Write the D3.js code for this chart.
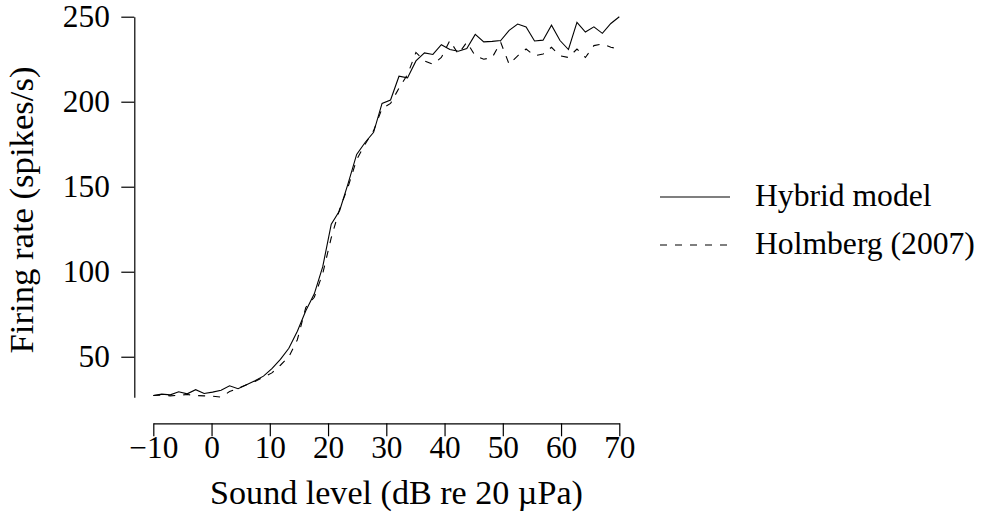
<!DOCTYPE html>
<html>
<head>
<meta charset="utf-8">
<script src="https://cdn.jsdelivr.net/npm/d3@7"></script>
<style>
    body { margin: 0; background: #fff; }
    text { font-family: "Liberation Serif", "DejaVu Serif", serif; fill: #000; }
</style>
</head>
<body>
<div id="chart"></div>
<script>
// sound levels (dB re 20 µPa) of the rate-level function
const soundLevels = [
    -10.00, -8.55, -7.09, -5.64, -4.18, -2.73, -1.27, 0.18, 1.64, 3.09,
    4.55, 6.00, 7.45, 8.91, 10.36, 11.82, 13.27, 14.73, 16.18, 17.64,
    19.09, 20.55, 22.00, 23.45, 24.91, 26.36, 27.82, 29.27, 30.73, 32.18,
    33.64, 35.09, 36.55, 38.00, 39.45, 40.91, 42.36, 43.82, 45.27, 46.73,
    48.18, 49.64, 51.09, 52.55, 54.00, 55.45, 56.91, 58.36, 59.82, 61.27,
    62.73, 64.18, 65.64, 67.09, 68.55, 70.00
];

// firing rate (spikes/s), hybrid model
const hybridRates = [
    27.2, 28.0, 27.6, 29.4, 28.2, 30.6, 28.4, 29.2, 30.3, 32.9,
    31.2, 33.5, 35.9, 38.6, 43.0, 48.5, 55.0, 65.0, 77.0, 87.0,
    103.0, 128.0, 136.0, 152.0, 169.0, 176.0, 182.0, 199.0, 201.0, 215.0,
    214.0, 224.0, 228.7, 227.8, 233.5, 230.7, 229.7, 231.3, 239.6, 235.2,
    235.5, 236.0, 242.0, 245.7, 244.0, 235.7, 236.2, 245.0, 236.0, 230.7,
    246.7, 241.0, 244.0, 240.2, 246.0, 250.0
];

// firing rate (spikes/s), Holmberg (2007)
const holmbergRates = [
    27.2, 27.5, 27.0, 27.3, 27.8, 27.2, 27.0, 26.8, 26.2, 29.5,
    31.5, 33.5, 35.5, 38.0, 40.5, 45.0, 50.0, 60.0, 79.0, 85.0,
    99.0, 120.0, 137.0, 150.0, 166.0, 175.0, 183.0, 196.0, 199.0, 208.0,
    216.0, 229.0, 224.0, 222.0, 226.0, 236.0, 228.0, 235.0, 227.0, 225.0,
    226.0, 235.0, 222.0, 227.0, 231.0, 227.0, 228.0, 232.0, 227.0, 226.0,
    231.0, 226.0, 233.0, 234.0, 232.0, 231.0
];

const xTicks = [-10, 0, 10, 20, 30, 40, 50, 60, 70];
const yTicks = [50, 100, 150, 200, 250];
const seriesNames = ['Hybrid model', 'Holmberg (2007)'];

class RateLevelChart {

    constructor(_config) {
        this.config = {
            parentElement: _config.parentElement,
            containerWidth: 984,
            containerHeight: 525,
            xRange: [153.3, 619.3],
            yRange: [397.2, 16.7],
            yMin: 26.2,
            yMax: 250,
            xAxisY: 423.3,
            yAxisX: 134.3,
            tickSize: 13,
            xTickBaseline: 35.2,
            baseFont: 30,
            // widths the texts take up in the original figure
            tickLabelWidth: 47,
            xTitleWidth: 373,
            yTitleWidth: 287,
            legendLabelWidth: 220,
            dash: '7,8',
            legendX: 660,
            legendLineLength: 70,
            legendTextGap: 25,
            legendRows: [197, 245]
        };
        this.initVis();
    }

    initVis() {
        let vis = this;

        vis.xScale = d3.scaleLinear()
            .domain([-10, 70])
            .range(vis.config.xRange);

        vis.yScale = d3.scaleLinear()
            .domain([vis.config.yMin, vis.config.yMax])
            .range(vis.config.yRange);

        vis.xAxis = d3.axisBottom(vis.xScale)
            .tickValues(xTicks)
            .tickSize(vis.config.tickSize)
            .tickSizeOuter(0);

        vis.yAxis = d3.axisLeft(vis.yScale)
            .tickValues(yTicks)
            .tickSize(vis.config.tickSize)
            .tickSizeOuter(0)
            .tickPadding(11.5);

        vis.svg = d3.select(vis.config.parentElement).append('svg')
            .attr('width', vis.config.containerWidth)
            .attr('height', vis.config.containerHeight);

        vis.xAxisG = vis.svg.append('g')
            .attr('transform', `translate(0,${vis.config.xAxisY})`);
        vis.yAxisG = vis.svg.append('g')
            .attr('transform', `translate(${vis.config.yAxisX},0)`);

        vis.chart = vis.svg.append('g');
        vis.legendGroup = vis.svg.append('g');

        // axis titles
        vis.xTitle = vis.svg.append('text')
            .attr('x', 396.5)
            .attr('y', 504)
            .attr('text-anchor', 'middle')
            .text('Sound level (dB re 20 µPa)');

        vis.yTitle = vis.svg.append('text')
            .attr('transform', 'translate(33,210) rotate(-90)')
            .attr('text-anchor', 'middle')
            .text('Firing rate (spikes/s)');

        vis.line = d3.line()
            .x(d => vis.xScale(d[0]))
            .y(d => vis.yScale(d[1]));

        vis.series = [
            {name: seriesNames[0], values: d3.zip(soundLevels, hybridRates), dash: null},
            {name: seriesNames[1], values: d3.zip(soundLevels, holmbergRates), dash: vis.config.dash}
        ];

        vis.renderVis();
    }

    // font size that makes the text as wide as in the original figure
    fitFont(sel, targetWidth) {
        let vis = this;
        sel.style('font-size', vis.config.baseFont + 'px');
        let w = sel.node().getComputedTextLength();
        return vis.config.baseFont * targetWidth / w;
    }

    renderVis() {
        let vis = this;

        vis.xAxisG.call(vis.xAxis);
        vis.yAxisG.call(vis.yAxis);

        // style both axes the same way
        [vis.xAxisG, vis.yAxisG].forEach(g => {
            g.attr('font-family', null).attr('font-size', null);
            g.selectAll('path, line')
                .attr('stroke', '#000')
                .attr('stroke-width', 1.2);
        });

        let widest = vis.yAxisG.selectAll('text').filter(d => d === 250);
        let tickFont = vis.fitFont(widest, vis.config.tickLabelWidth);
        vis.svg.selectAll('.tick text').style('font-size', tickFont + 'px');
        vis.xAxisG.selectAll('text')
            .attr('dy', null)
            .attr('y', vis.config.xTickBaseline);

        vis.xTitle.style('font-size', vis.fitFont(vis.xTitle, vis.config.xTitleWidth) + 'px');
        vis.yTitle.style('font-size', vis.fitFont(vis.yTitle, vis.config.yTitleWidth) + 'px');

        vis.chart.selectAll('.series')
            .data(vis.series)
            .join('path')
            .attr('class', 'series')
            .attr('fill', 'none')
            .attr('stroke', '#000')
            .attr('stroke-width', 1.1)
            .attr('stroke-dasharray', d => d.dash)
            .attr('d', d => vis.line(d.values));

        // legend rows: line sample + label
        let row = vis.legendGroup.selectAll('.legend-row')
            .data(vis.series)
            .join('g')
            .attr('class', 'legend-row')
            .attr('transform', (d, i) => `translate(${vis.config.legendX},${vis.config.legendRows[i]})`);

        row.append('line')
            .attr('x2', vis.config.legendLineLength)
            .attr('stroke', '#000')
            .attr('stroke-width', 1.1)
            .attr('stroke-dasharray', d => d.dash);

        let labels = row.append('text')
            .attr('x', vis.config.legendLineLength + vis.config.legendTextGap)
            .attr('y', 9)
            .text(d => d.name);

        let legendFont = vis.fitFont(labels.filter((d, i) => i === 1), vis.config.legendLabelWidth);
        labels.style('font-size', legendFont + 'px');
    }
}

const chart = new RateLevelChart({parentElement: '#chart'});
</script>
</body>
</html>
